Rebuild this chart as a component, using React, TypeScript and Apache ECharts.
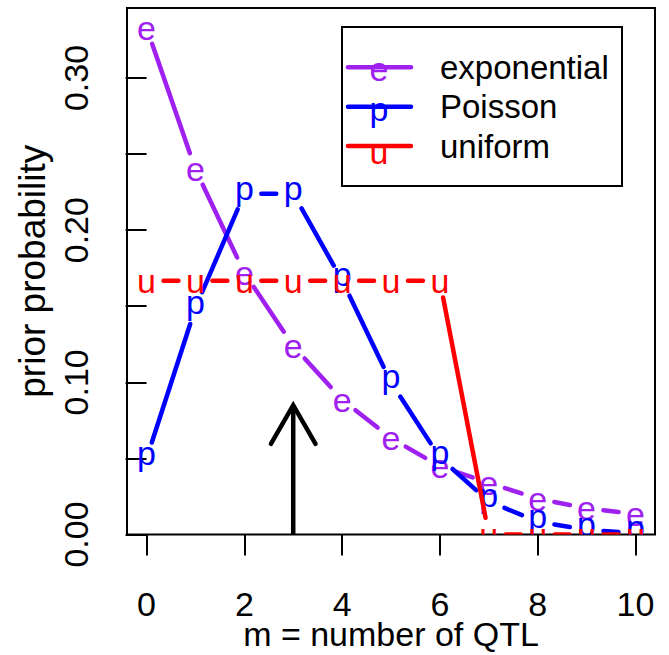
import React, { useEffect, useRef } from "react";
import * as echarts from "echarts";

// ---- data ----
const mValues = [0, 1, 2, 3, 4, 5, 6, 7, 8, 9, 10];
const exponentialPrior = [0.333, 0.24, 0.172, 0.124, 0.0886, 0.0634, 0.0447, 0.034, 0.0235, 0.0173, 0.0135];
const poissonPrior = [0.0498, 0.149, 0.224, 0.224, 0.167, 0.1, 0.0505, 0.0217, 0.0085, 0.003, 0.0009];
const uniformPrior = [0.1667, 0.1667, 0.1667, 0.1667, 0.1667, 0.1667, 0.1667, 0, 0, 0, 0];
const seriesNames = ["exponential", "Poisson", "uniform"];
const seriesLetters = ["e", "p", "u"];
const xTickLabels = [0, 2, 4, 6, 8, 10];
const yTickMarks = [0, 0.05, 0.1, 0.15, 0.2, 0.25, 0.3];
const yTickLabels = [0, 0.1, 0.2, 0.3];
const arrowX = 3;
const arrowTop = 0.085;

// ---- styles ----
const FONT = '"Liberation Sans", Arial, Helvetica, sans-serif';
const FS = 34;
const COLORS = ["#A020F0", "#0000FF", "#FF0000"];
const LETTER_DY = [0, -6, 0];
const LEGEND_LETTER_DY = [2, 2, 6];
const GAP = 17;
const LW = 4.5;

function buildData(values: number[]) {
  return mValues.map((m, i) => {
    const j = i + 1 < mValues.length ? i + 1 : i;
    return [m, values[i], mValues[j], values[j]];
  });
}

function makeRender(k: number) {
  return (_params: any, api: any) => {
    const p = api.coord([api.value(0), api.value(1)]);
    const q = api.coord([api.value(2), api.value(3)]);
    const children: any[] = [];
    const dx = q[0] - p[0];
    const dy = q[1] - p[1];
    const len = Math.hypot(dx, dy);
    if (len > 1) {
      const f = GAP / len;
      if (f < 0.5) {
        children.push({
          type: "line",
          shape: { x1: p[0] + f * dx, y1: p[1] + f * dy, x2: q[0] - f * dx, y2: q[1] - f * dy },
          style: { stroke: COLORS[k], lineWidth: LW, lineCap: "round" },
        });
      }
    }
    children.push({
      type: "text",
      x: p[0],
      y: p[1] + LETTER_DY[k],
      style: {
        text: seriesLetters[k],
        fill: COLORS[k],
        fontSize: FS,
        fontFamily: FONT,
        align: "center",
        verticalAlign: "middle",
      },
    });
    return { type: "group", children };
  };
}

function renderArrow(_params: any, api: any) {
  const base = api.coord([api.value(0), api.value(1)]);
  const tip = api.coord([api.value(0), api.value(2)]);
  const L = 44.6;
  const hx = L * Math.sin(Math.PI / 6);
  const hy = L * Math.cos(Math.PI / 6);
  return {
    type: "group",
    children: [
      {
        type: "line",
        shape: { x1: base[0], y1: base[1], x2: tip[0], y2: tip[1] },
        style: { stroke: "#000", lineWidth: LW, lineCap: "butt" },
      },
      {
        type: "polyline",
        shape: { points: [[tip[0] - hx, tip[1] + hy], [tip[0], tip[1]], [tip[0] + hx, tip[1] + hy]] },
        style: { stroke: "#000", lineWidth: LW, lineCap: "round", lineJoin: "miter", fill: "none" },
      },
    ],
  };
}

export default function App() {
  const ref = useRef<HTMLDivElement>(null);
  useEffect(() => {
    if (!ref.current) return;
    const chart = echarts.init(ref.current, null, { renderer: "svg" });
    const allSeries = [exponentialPrior, poissonPrior, uniformPrior];

    const legendX0 = 342, legendY0 = 27, legendW = 280, legendH = 159;
    const legendRowY = [67.3, 106.7, 146];
    const legendEls: any[] = [
      {
        type: "rect",
        shape: { x: legendX0, y: legendY0, width: legendW, height: legendH },
        style: { fill: "#fff", stroke: "#000", lineWidth: 2 },
      },
    ];
    seriesNames.forEach((name, k) => {
      const y = legendRowY[k];
      legendEls.push({
        type: "line",
        shape: { x1: 348, y1: y, x2: 411, y2: y },
        style: { stroke: COLORS[k], lineWidth: LW, lineCap: "round" },
      });
      legendEls.push({
        type: "text",
        x: 379,
        y: y + LEGEND_LETTER_DY[k],
        style: { text: seriesLetters[k], fill: COLORS[k], fontSize: FS, fontFamily: FONT, align: "center", verticalAlign: "middle" },
      });
      legendEls.push({
        type: "text",
        x: 440,
        y: y,
        style: { text: name, fill: "#000", fontSize: 33, fontFamily: FONT, align: "left", verticalAlign: "middle" },
      });
    });

    chart.setOption({
      animation: false,
      backgroundColor: "#fff",
      textStyle: { fontFamily: FONT },
      grid: {
        left: 127,
        right: 14,
        top: 8,
        bottom: 120.5,
        show: true,
        borderColor: "#000",
        borderWidth: 2,
        backgroundColor: "transparent",
        containLabel: false,
        outerBoundsMode: "none",
      },
      xAxis: {
        type: "value",
        min: -0.4,
        max: 10.4,
        axisLine: { show: false },
        axisTick: { show: true, customValues: xTickLabels, length: 21, lineStyle: { color: "#000", width: 2 } },
        axisLabel: { customValues: xTickLabels, margin: 52, fontSize: FS, color: "#000", fontFamily: FONT },
        splitLine: { show: false },
        name: "m = number of QTL",
        nameLocation: "middle",
        nameGap: 82,
        nameMoveOverlap: false,
        nameTextStyle: { fontSize: FS, color: "#000", fontFamily: FONT },
      },
      yAxis: {
        type: "value",
        min: 0,
        max: 0.346,
        axisLine: { show: false },
        axisTick: { show: true, customValues: yTickMarks, length: 21, lineStyle: { color: "#000", width: 2 } },
        axisLabel: {
          customValues: yTickLabels,
          rotate: 90,
          margin: 34,
          fontSize: FS,
          color: "#000",
          fontFamily: FONT,
          formatter: (v: number) => v.toFixed(2),
        },
        splitLine: { show: false },
        name: "prior probability",
        nameLocation: "middle",
        nameRotate: 90,
        nameGap: 76,
        nameMoveOverlap: false,
        nameTextStyle: { fontSize: 37, color: "#000", fontFamily: FONT },
      },
      series: [
        ...allSeries.map((vals, k) => ({
          type: "custom",
          name: seriesNames[k],
          clip: true,
          encode: { x: 0, y: 1 },
          data: buildData(vals),
          renderItem: makeRender(k),
          z: 2 + k,
        })),
        {
          type: "custom",
          name: "arrow",
          clip: true,
          encode: { x: 0, y: [1, 2] },
          data: [[arrowX, 0, arrowTop]],
          renderItem: renderArrow,
          z: 6,
        },
      ],
      graphic: { elements: [{ type: "group", z: 100, children: legendEls }] },
    });
    return () => chart.dispose();
  }, []);
  return (
    <div
      ref={ref}
      style={{ position: "fixed", left: 0, top: 0, width: 669, height: 655, background: "#fff" }}
    />
  );
}
